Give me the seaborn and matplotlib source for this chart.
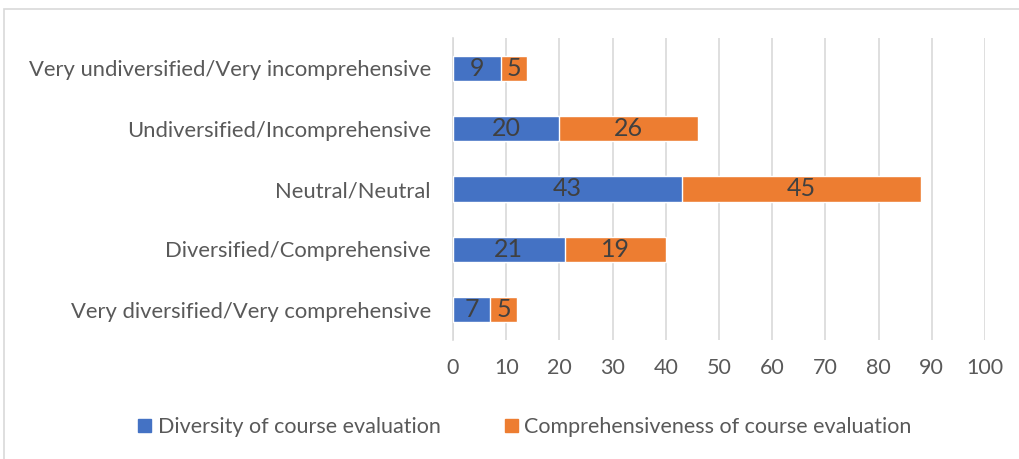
import pandas as pd
import numpy as np
import seaborn as sns
import matplotlib.pyplot as plt
from matplotlib.patches import Rectangle, Patch

# data (top to bottom)
categories = ["Very undiversified/Very incomprehensive", "Undiversified/Incomprehensive",
              "Neutral/Neutral", "Diversified/Comprehensive", "Very diversified/Very comprehensive"]
diversity = [9, 20, 43, 21, 7]
comprehensiveness = [5, 26, 45, 19, 5]
xticks = [0, 10, 20, 30, 40, 50, 60, 70, 80, 90, 100]

blue = "#4472C4"
orange = "#ED7D31"
grey_text = "#595959"

df = pd.DataFrame({"cat": categories, "div": diversity, "comp": comprehensiveness})
df["total"] = df["div"] + df["comp"]

sns.set_style("white")
plt.rcParams['font.family'] = ['Lato', 'DejaVu Sans']

fig = plt.figure(figsize=(10.19, 4.59), dpi=100)
ax = fig.add_axes([453/1019, 1-340/459, 532/1019, 302/459])

# stacked bars: total in orange, then blue drawn over it
sns.barplot(data=df, y="cat", x="total", color=orange, width=0.42, ax=ax, saturation=1, zorder=2)
sns.barplot(data=df, y="cat", x="div", color=blue, width=0.42, ax=ax, saturation=1, zorder=3)

ax.bar_label(ax.containers[1], labels=[str(v) for v in diversity], label_type="center",
             fontsize=18, color="#404040")
# orange labels centered on the orange part
for i, (d, c) in enumerate(zip(diversity, comprehensiveness)):
    ax.text(d + c/2, i, str(c), ha="center", va="center", fontsize=18, color="#404040", zorder=4)

ax.set_xlim(0, 100)
ax.set_xticks(xticks)
ax.set_xticklabels([str(t) for t in xticks], fontsize=15.5, color=grey_text)
ax.tick_params(axis="y", labelsize=15.8, labelcolor=grey_text, length=0, pad=16)
ax.tick_params(axis="x", length=0, pad=13)
ax.set_xlabel("")
ax.set_ylabel("")
ax.grid(axis="x", color="#D9D9D9", linewidth=1.2, zorder=0)
ax.set_axisbelow(True)
for s in ["top", "right", "bottom"]:
    ax.spines[s].set_visible(False)
ax.spines["left"].set_color("#D9D9D9")
ax.spines["left"].set_linewidth(1.2)

handles = [Patch(color=blue, label="Diversity of course evaluation"),
           Patch(color=orange, label="Comprehensiveness of course evaluation")]
fig.legend(handles=handles, loc="center", bbox_to_anchor=(525/1019, 1-427/459), ncol=2,
           frameon=False, fontsize=15.5, labelcolor=grey_text, handlelength=0.6, handleheight=0.6,
           handletextpad=0.3, columnspacing=3.0)

# outer chart frame
fig.patches.append(Rectangle((4/1019, -0.1), 1.1, 1-9/459+0.1, transform=fig.transFigure,
                             fill=False, edgecolor="#D9D9D9", linewidth=1.2))

fig.savefig("out.png", dpi=100)
